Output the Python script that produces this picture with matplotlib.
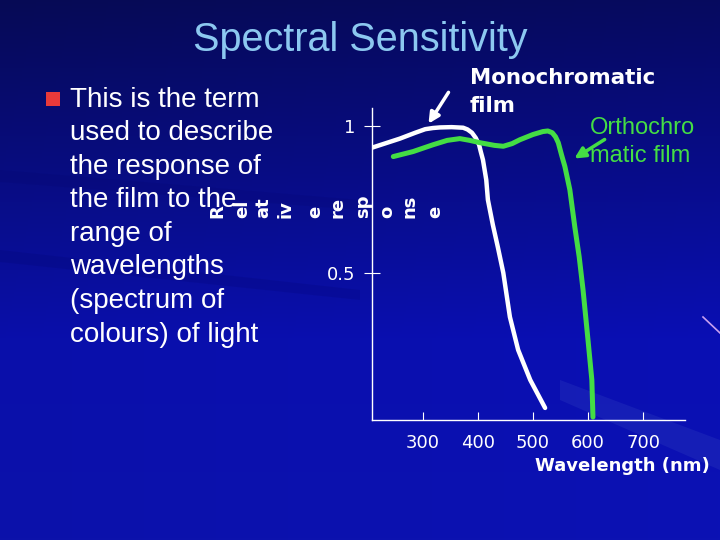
import numpy as np
import matplotlib
matplotlib.use("Agg")
import matplotlib.pyplot as plt
from matplotlib.patches import Rectangle, Polygon, FancyArrowPatch

# courbes (longueur d'onde [nm], réponse relative)
mono_x = [207, 258, 286, 304, 318, 331, 352, 373, 381, 389, 396, 402, 405, 409, 412, 415, 418,
          427, 436, 446, 458, 473, 495, 522]
mono_y = [0.925, 0.956, 0.976, 0.988, 0.992, 0.994, 0.995, 0.993, 0.987, 0.976, 0.958, 0.935,
          0.912, 0.884, 0.85, 0.816, 0.748, 0.663, 0.588, 0.500, 0.350, 0.238, 0.136, 0.041]

ortho_x = [246, 282, 318, 344, 367, 385, 404, 430, 446, 462, 476, 500, 518, 527, 535, 541, 546,
           552, 558, 567, 576, 584, 591, 600, 607, 609]
ortho_y = [0.895, 0.912, 0.935, 0.950, 0.956, 0.950, 0.942, 0.933, 0.930, 0.939, 0.952, 0.970,
           0.980, 0.982, 0.976, 0.962, 0.942, 0.90, 0.861, 0.782, 0.656, 0.554, 0.442, 0.272,
           0.136, 0.010]

xticks = [300, 400, 500, 600, 700]
yticks = [0.5, 1]
ytick_labels = ["0.5", "1"]

bullet_lines = ["This is the term", "used to describe", "the response of", "the film to the",
                "range of", "wavelengths", "(spectrum of", "colours) of light"]

ylabel_chunks = ["R", "el", "at", "iv", "e", "re", "sp", "o", "ns", "e"]
ylabel_x = [217, 242, 263, 285, 315, 338, 363, 387, 410, 435]

W, H = 720, 540
VERT = '#44dd44'

def fx(px):
    return px / W

def fy(py):
    return 1 - py / H

fig = plt.figure(figsize=(7.2, 5.4), dpi=100)

# fond dégradé bleu
bg = fig.add_axes([0, 0, 1, 1])
yy = np.linspace(0, 1, 270)[:, None]
xx = np.linspace(0, 1, 360)[None, :]
r = 6 + 6 * yy + 0 * xx
g = 10 + 8 * yy + 0 * xx
b = 85 + 85 * np.clip(yy * 1.6, 0, 1) + 10 * xx
img = np.dstack([r, g, b]) / 255.0
bg.imshow(np.clip(img, 0, 1), extent=[0, W, H, 0], aspect='auto')
# quelques bandes diagonales
bg.add_patch(Polygon([[560, 380], [720, 440], [720, 470], [560, 400]], closed=True,
                     facecolor='#3040c0', alpha=0.3, lw=0))
bg.add_patch(Polygon([[0, 250], [360, 290], [360, 300], [0, 262]], closed=True,
                     facecolor='#000060', alpha=0.15, lw=0))
bg.add_patch(Polygon([[0, 170], [360, 200], [360, 210], [0, 182]], closed=True,
                     facecolor='#000060', alpha=0.12, lw=0))
bg.plot([703, 720], [317, 333], color='#c8a0f0', lw=1.2)
bg.set_xlim(0, W)
bg.set_ylim(H, 0)
bg.axis('off')

# graphe
ax = fig.add_axes([fx(372), fy(420), (685 - 372) / W, (420 - 108) / H])
ax.set_facecolor('none')
ax.plot(mono_x, mono_y, color='white', lw=3.2, solid_capstyle='round', solid_joinstyle='round')
ax.plot(ortho_x, ortho_y, color=VERT, lw=3.6, solid_capstyle='round', solid_joinstyle='round')
ax.set_xlim(500 - (533 - 372) / 0.55, 500 + (685 - 533) / 0.55)
ax.set_ylim(0, 1.06)
for s in ['top', 'right']:
    ax.spines[s].set_visible(False)
for s in ['left', 'bottom']:
    ax.spines[s].set_color('white')
    ax.spines[s].set_linewidth(1)
ax.set_xticks(xticks)
ax.set_xticklabels([str(v) for v in xticks])
ax.set_yticks(yticks)
ax.set_yticklabels(ytick_labels)
ax.tick_params(axis='x', direction='in', length=6, colors='white', labelsize=13, pad=10)
ax.tick_params(axis='y', direction='inout', length=12, colors='white', labelsize=13, pad=6)

# titre
fig.text(fx(360), fy(40), "Spectral Sensitivity", color='#8cc8f0', fontsize=28.5,
         family='Liberation Sans', ha='center', va='center')

# texte à puce
fig.add_artist(Rectangle((fx(46), fy(106)), 14 / W, 14 / H, transform=fig.transFigure,
                         facecolor='#e83a3a', edgecolor='none'))
for i, line in enumerate(bullet_lines):
    fig.text(fx(70), fy(100 + i * 33.5), line, color='white', fontsize=20,
             family='Liberation Sans', ha='left', va='center')

# étiquette verticale découpée
for txt, px in zip(ylabel_chunks, ylabel_x):
    fig.text(fx(px), fy(218), txt, color='white', fontsize=13, fontweight='bold',
             rotation=90, ha='center', va='bottom')

# annotations
fig.text(fx(470), fy(78), "Monochromatic", color='white', fontsize=15.4, fontweight='bold',
         ha='left', va='center')
fig.text(fx(470), fy(106), "film", color='white', fontsize=15.4, fontweight='bold',
         ha='left', va='center')
fig.text(fx(590), fy(128), "Orthochro", color=VERT, fontsize=17, family='Liberation Sans',
         ha='left', va='center')
fig.text(fx(590), fy(156), "matic film", color=VERT, fontsize=17, family='Liberation Sans',
         ha='left', va='center')
fig.text(fx(710), fy(466), "Wavelength (nm)", color='white', fontsize=13, fontweight='bold',
         ha='right', va='center')

fig.add_artist(FancyArrowPatch((fx(450), fy(90)), (fx(427), fy(126)),
               transform=fig.transFigure, arrowstyle='-|>', mutation_scale=16,
               color='white', lw=2.5))
fig.add_artist(FancyArrowPatch((fx(607), fy(138)), (fx(572), fy(160)),
               transform=fig.transFigure, arrowstyle='-|>', mutation_scale=16,
               color=VERT, lw=2.5))

fig.savefig("out.png", dpi=100)
